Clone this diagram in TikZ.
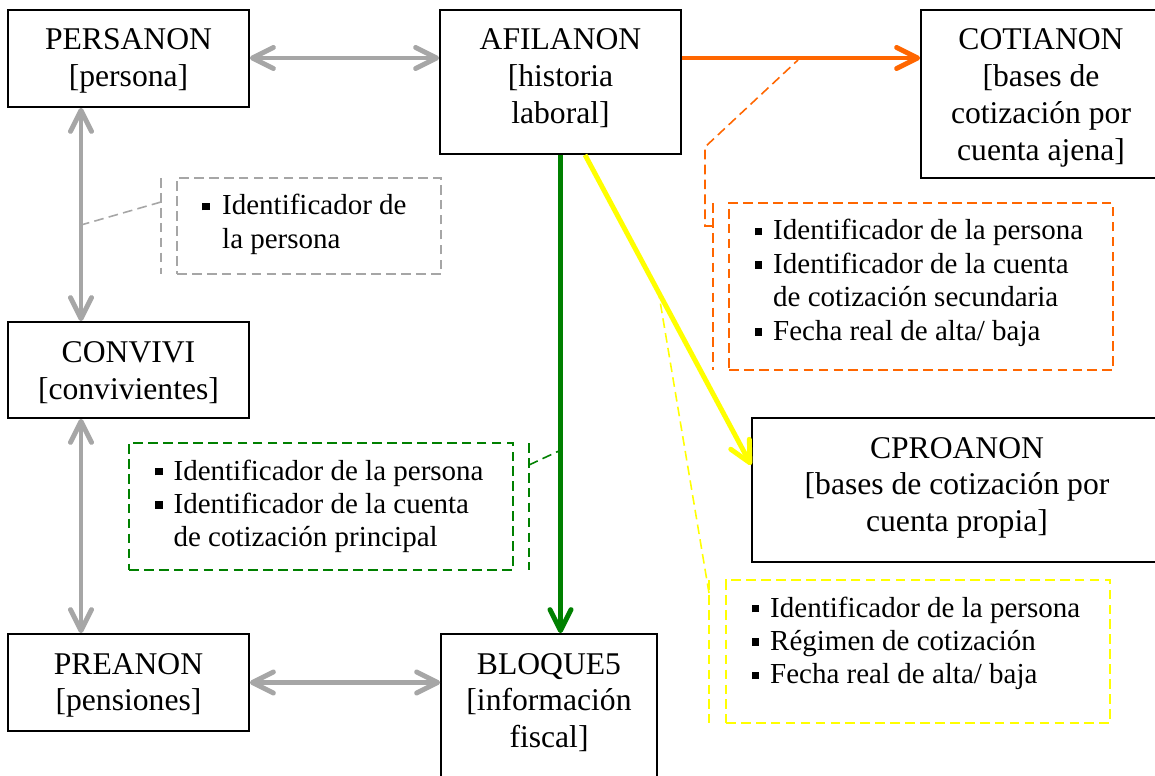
\documentclass[tikz,border=0pt]{standalone}
\usepackage{fontspec}
\setmainfont{Liberation Serif}
\usetikzlibrary{arrows.meta,fit,calc}
\definecolor{cgray}{HTML}{A6A6A6}
\definecolor{corange}{HTML}{FF6600}
\definecolor{cgreen}{HTML}{008000}
\definecolor{cyellow}{HTML}{FFFF00}
\newcommand\tfont{\fontsize{18}{21}\selectfont}
\newcommand\cfont{\fontsize{16.5}{19}\selectfont}
\newcommand\sqb{\rule[2.6pt]{4.2pt}{4.2pt}}
\begin{document}
\begin{tikzpicture}[x=0.02cm,y=-0.02cm,
  tbox/.style={draw=black, line width=1pt, inner sep=0pt},
  ttext/.style={anchor=base, font=\tfont, inner sep=0pt},
  ctext/.style={anchor=base west, font=\cfont, inner sep=0pt},
  callbox/.style={draw=#1, line width=0.9pt, dash pattern=on 5.5pt off 3pt, inner sep=0pt},
  callline/.style={draw=#1, line width=0.9pt, dash pattern=on 5.5pt off 3pt},
  link/.style={draw=#1, line width=2.8pt},
  bilink/.style={link=#1, {Straight Barb[length=12pt,width=12pt,line cap=round,line join=round]}-{Straight Barb[length=12pt,width=12pt,line cap=round,line join=round]}},
  unilink/.style={link=#1, -{Straight Barb[length=12pt,width=12pt,line cap=round,line join=round]}}]
\useasboundingbox (0,0) rectangle (1155,776);
\clip (0,0) rectangle (1155,776);

% helper coordinates
\coordinate (y58) at (0,58);
\coordinate (x81) at (81,0);
\coordinate (x585) at (585,0);
\coordinate (y465) at (0,465);

% main boxes
\node[tbox, fit={(8,10)(249,107)}] (persanon) {};
\node[tbox, fit={(440,10)(681,154)}] (afilanon) {};
\node[tbox, fit={(921,10)(1165,178)}] (cotianon) {};
\node[tbox, fit={(8,322)(249,418)}] (convivi) {};
\node[tbox, fit={(752,418)(1165,562)}] (cproanon) {};
\node[tbox, fit={(8,634)(249,731)}] (preanon) {};
\node[tbox, fit={(441,634)(657,790)}] (bloque) {};

% titles
\node[ttext] (persanon-t) at (128.5,50) {\begin{tabular}[t]{@{}c@{}}PERSANON\\ {[persona]}\end{tabular}};
\node[ttext] (afilanon-t) at (560.5,50) {\begin{tabular}[t]{@{}c@{}}AFILANON\\ {[historia}\\ laboral]\end{tabular}};
\node[ttext] (cotianon-t) at (1041,50) {\begin{tabular}[t]{@{}c@{}}COTIANON\\ {[bases de}\\ cotización por\\ cuenta ajena]\end{tabular}};
\node[ttext] (convivi-t) at (128.5,363) {\begin{tabular}[t]{@{}c@{}}CONVIVI\\ {[convivientes]}\end{tabular}};
\node[ttext] (cproanon-t) at (957,458) {\begin{tabular}[t]{@{}c@{}}CPROANON\\ {[bases de cotización por}\\ cuenta propia]\end{tabular}};
\node[ttext] (preanon-t) at (128.5,674) {\begin{tabular}[t]{@{}c@{}}PREANON\\ {[pensiones]}\end{tabular}};
\node[ttext] (bloque-t) at (549,674) {\begin{tabular}[t]{@{}c@{}}BLOQUE5\\ {[información}\\ fiscal]\end{tabular}};

% callout boxes
\node[callbox=cgray, fit={(177,178)(441,274)}] (gbox) {};
\node[callbox=corange, fit={(729,203)(1113,370)}] (obox) {};
\node[callbox=cgreen, fit={(129,443)(513,570)}] (grbox) {};
\node[callbox=cyellow, fit={(726,580)(1110,723)}] (ybox) {};

% callout texts
\node[ctext] (gbox-t) at (202,215) {\begin{tabular}[t]{@{}l@{\hspace{7.1pt}}l@{}}\sqb & Identificador de\\ & la persona\end{tabular}};
\node[ctext] (obox-t) at (754.6,240) {\begin{tabular}[t]{@{}l@{\hspace{6.2pt}}l@{}}\sqb & Identificador de la persona\\ \sqb & Identificador de la cuenta\\ & de cotización secundaria\\ \sqb & Fecha real de alta/ baja\end{tabular}};
\node[ctext] (grbox-t) at (155,480) {\begin{tabular}[t]{@{}l@{\hspace{6.2pt}}l@{}}\sqb & Identificador de la persona\\ \sqb & Identificador de la cuenta\\ & de cotización principal\end{tabular}};
\node[ctext] (ybox-t) at (751.6,617) {\begin{tabular}[t]{@{}l@{\hspace{6.2pt}}l@{}}\sqb & Identificador de la persona\\ \sqb & Régimen de cotización\\ \sqb & Fecha real de alta/ baja\end{tabular}};

% callout accent bars and leaders
\coordinate (gbar-t) at (161,178);
\coordinate (gbar-b) at (161,274);
\coordinate (gbar-l) at (161,202);
\coordinate (gpt) at (81,225);
\draw[callline=cgray] (gbar-t) -- (gbar-b);
\draw[callline=cgray] (gbar-l) -- (gpt);

\coordinate (obar-t) at (713,203);
\coordinate (obar-b) at (713,370);
\coordinate (oleg1) at (713,226);
\coordinate (oleg2) at (705,226);
\coordinate (oleg3) at (705,147);
\coordinate (opt) at (798,60);
\draw[callline=corange] (obar-t) -- (obar-b);
\draw[callline=corange] (oleg1) -- (oleg2) -- (oleg3) -- (opt);

\coordinate (grbar-t) at (529,443);
\coordinate (grbar-b) at (529,570);
\coordinate (grbar-l) at (529,465);
\coordinate (grpt) at (561,450);
\draw[callline=cgreen] (grbar-t) -- (grbar-b);
\draw[callline=cgreen] (grbar-l) -- (grpt);

\coordinate (ybar-t) at (709,580);
\coordinate (ybar-b) at (709,723);
\coordinate (ybar-l) at (709,593);
\coordinate (ypt) at (659,295);
\draw[callline=cyellow] (ybar-t) -- (ybar-b);
\draw[callline=cyellow] (ybar-l) -- (ypt);

% connectors
\draw[bilink=cgray] (persanon.east |- y58) -- (afilanon.west |- y58);
\draw[bilink=cgray] (persanon.south -| x81) -- (convivi.north -| x81);
\draw[bilink=cgray] (convivi.south -| x81) -- (preanon.north -| x81);
\draw[bilink=cgray] (preanon.east) -- (preanon.east -| bloque.west);
\draw[unilink=corange] (afilanon.east |- y58) -- (cotianon.west |- y58);
\draw[unilink=cgreen] (afilanon.south) -- (afilanon.south |- bloque.north);
\draw[unilink=cyellow] (afilanon.south -| x585) -- (cproanon.west |- y465);
\end{tikzpicture}
\end{document}
